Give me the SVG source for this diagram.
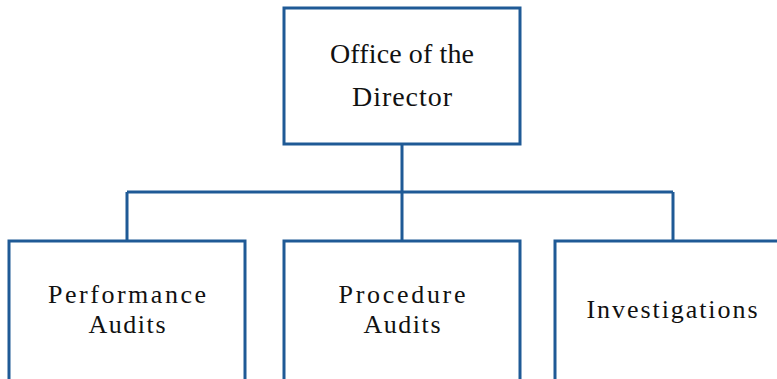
<svg xmlns="http://www.w3.org/2000/svg" width="777" height="379" viewBox="0 0 777 379">
<style>
.box{fill:#fff;stroke:#1f5a96;stroke-width:3}
.conn{fill:none;stroke:#1f5a96;stroke-width:3}
.t1{font-family:"Liberation Serif",serif;font-size:28px;fill:#111;text-anchor:middle}
.t2{font-family:"Liberation Serif",serif;font-size:26px;fill:#111;text-anchor:middle}
</style>
<rect width="777" height="379" fill="#fff"/>
<g id="connectors">
<path class="conn" d="M402 144V192M127 192H673M127 192V241M402 192V241M673 192V241"/>
</g>
<g id="director">
<rect class="box" x="284" y="8" width="236" height="136"/>
<text class="t1" x="402" y="63" textLength="144">Office of the</text>
<text class="t1" x="402" y="106" textLength="100">Director</text>
</g>
<g id="performance">
<rect class="box" x="9" y="241" width="236" height="145"/>
<text class="t2" x="127" y="303" textLength="158">Performance</text>
<text class="t2" x="127" y="333" textLength="77">Audits</text>
</g>
<g id="procedure">
<rect class="box" x="284" y="241" width="236" height="145"/>
<text class="t2" x="402" y="303" textLength="127">Procedure</text>
<text class="t2" x="402" y="333" textLength="77">Audits</text>
</g>
<g id="investigations">
<rect class="box" x="555" y="241" width="236" height="145"/>
<text class="t2" x="672" y="318" textLength="171">Investigations</text>
</g>
</svg>
